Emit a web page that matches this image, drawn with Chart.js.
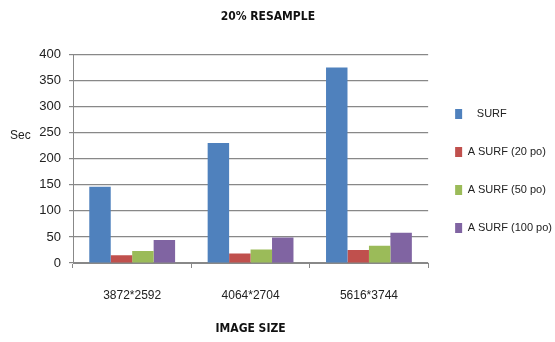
<!DOCTYPE html>
<html>
<head>
<meta charset="utf-8">
<script src="https://cdn.jsdelivr.net/npm/chart.js@4/dist/chart.umd.min.js"></script>
<style>
  html, body { margin: 0; padding: 0; background: #fff; }
  #wrap { width: 555px; height: 342px; }
</style>
</head>
<body>
<div id="wrap"><canvas id="chart" width="555" height="342"></canvas></div>
<script>
const categories = ["3872*2592", "4064*2704", "5616*3744"];
const seriesNames = ["   SURF", "A SURF (20 po)", "A SURF (50 po)", "A SURF (100 po)"];
const surf = [146, 230, 375];
const asurf20 = [15, 18, 25];
const asurf50 = [23, 26, 33];
const asurf100 = [44, 49, 58];
const yTicks = [0, 50, 100, 150, 200, 250, 300, 350, 400];

const colors = ["#4F81BD", "#C0504D", "#9BBB59", "#8064A2"];
const sans = "'Liberation Sans', Arial, sans-serif";
const gridColor = "#888888";

const sideTitle = {
    id: "sideTitle",
    afterDraw(chart) {
        const ctx = chart.ctx;
        ctx.save();
        ctx.font = "12px " + sans;
        ctx.fillStyle = "#222";
        ctx.textAlign = "left";
        ctx.textBaseline = "middle";
        ctx.fillText("Sec", 10, 136);
        ctx.restore();
    }
};

const values = [surf, asurf20, asurf50, asurf100];
const datasets = values.map((v, i) => ({
    label: seriesNames[i],
    data: v,
    backgroundColor: colors[i],
    borderWidth: 0
}));

new Chart(document.getElementById("chart"), {
    type: "bar",
    data: { labels: categories, datasets: datasets },
    plugins: [sideTitle],
    options: {
        responsive: false,
        animation: false,
        layout: { padding: { top: 0, right: -7, bottom: 0, left: 0 } },
        datasets: { bar: { categoryPercentage: 0.725, barPercentage: 1 } },
        plugins: {
            title: {
                display: true,
                text: "20% RESAMPLE       ",
                color: "#111",
                font: { family: "'DejaVu Sans Condensed', sans-serif", size: 12, weight: "bold" },
                padding: { top: 10, bottom: 30 }
            },
            legend: {
                position: "right",
                labels: {
                    boxWidth: 7,
                    boxHeight: 10,
                    padding: 27,
                    color: "#222",
                    font: { family: sans, size: 11 }
                }
            },
            tooltip: { enabled: false }
        },
        scales: {
            x: {
                grid: { display: true, drawOnChartArea: false, drawTicks: true, tickLength: 5, color: gridColor },
                border: { color: gridColor },
                ticks: { color: "#222", padding: 20, font: { family: sans, size: 12 } },
                title: {
                    display: true,
                    text: "IMAGE SIZE",
                    color: "#111",
                    font: { family: "'DejaVu Sans Condensed', sans-serif", size: 12, weight: "bold" },
                    padding: { top: 6, bottom: 6 }
                },
                afterFit(scale) { scale.height = 79; }
            },
            y: {
                min: 0,
                max: 400,
                afterBuildTicks(scale) { scale.ticks = yTicks.map(v => ({ value: v })); },
                grid: { color: gridColor, lineWidth: 1.2, tickLength: 4 },
                border: { color: gridColor },
                ticks: { color: "#222", padding: 8, font: { family: sans, size: 13 } },
                afterFit(scale) { scale.width = 73; }
            }
        }
    }
});
</script>
</body>
</html>
